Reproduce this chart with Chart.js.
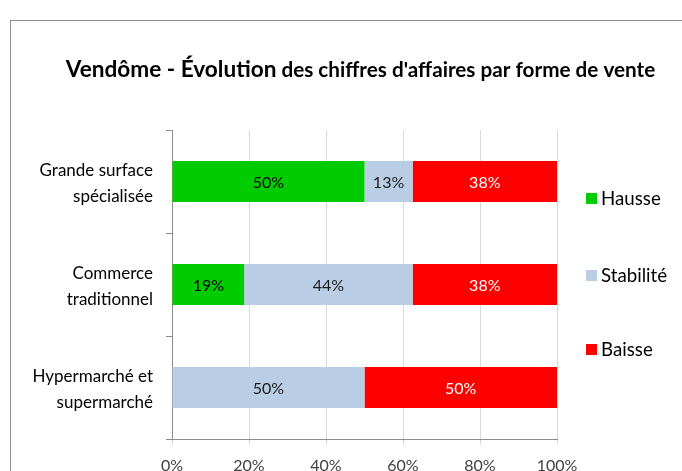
<!DOCTYPE html>
<html>
<head>
<meta charset="utf-8">
<script src="https://cdn.jsdelivr.net/npm/chart.js@4"></script>
<style>
  html, body { margin: 0; padding: 0; background: #ffffff; }
  #wrap { width: 682px; height: 471px; position: relative; }
</style>
</head>
<body>
<div id="wrap"><canvas id="c" width="682" height="471"></canvas></div>
<script>
const categories = [
  ["Grande surface", "spécialisée"],
  ["Commerce", "traditionnel"],
  ["Hypermarché et", "supermarché"]
];
const seriesNames = ["Hausse", "Stabilité", "Baisse"];
const hausse    = [50, 18.75, 0];
const stabilite = [12.5, 43.75, 50];
const baisse    = [37.5, 37.5, 50];
const xTicks = [0, 20, 40, 60, 80, 100];
const titleMain = "Vendôme - Évolution";
const titleRest = " des chiffres d'affaires par forme de vente";

const FONT = "Lato, 'Open Sans', sans-serif";
const colors = ["#00CC00", "#B9CDE5", "#FF0000"];
const labelColors = ["#000000", "#1a1a1a", "#ffffff"];

const framePlugin = {
  id: 'frame',
  beforeDraw(chart) {
    const ctx = chart.ctx;
    ctx.save();
    ctx.fillStyle = '#ffffff';
    ctx.fillRect(0, 0, chart.width, chart.height);
    ctx.strokeStyle = '#8c8c8c';
    ctx.lineWidth = 1;
    ctx.strokeRect(10.5, 20.5, 800, 600);
    ctx.restore();
  },
  afterDraw(chart) {
    const ctx = chart.ctx;
    ctx.save();
    // Title
    ctx.fillStyle = '#000000';
    ctx.textBaseline = 'alphabetic';
    const f1 = "bold 22.6px " + FONT;
    const f2 = "bold 20.7px " + FONT;
    ctx.font = f1; const w1 = ctx.measureText(titleMain).width;
    ctx.font = f2; const w2 = ctx.measureText(titleRest).width;
    let x = 360.5 - (w1 + w2) / 2;
    ctx.font = f1; ctx.textAlign = 'left'; ctx.fillText(titleMain, x, 77);
    ctx.font = f2; ctx.fillText(titleRest, x + w1, 77);
    // Legend
    const ly = [199, 276, 350];
    chart.data.datasets.forEach((ds, i) => {
      ctx.fillStyle = ds.backgroundColor;
      ctx.fillRect(586, ly[i] - 6, 11, 11);
      ctx.fillStyle = '#000000';
      ctx.font = "18.7px " + FONT;
      ctx.textBaseline = 'middle';
      ctx.fillText(ds.label, 601, ly[i]);
    });
    // Data labels
    ctx.font = "16px " + FONT;
    ctx.textAlign = 'center';
    ctx.textBaseline = 'middle';
    chart.data.datasets.forEach((ds, i) => {
      const meta = chart.getDatasetMeta(i);
      meta.data.forEach((bar, j) => {
        const v = ds.data[j];
        if (!v) return;
        const p = bar.getProps(['x', 'y', 'base'], true);
        ctx.fillStyle = labelColors[i];
        ctx.fillText(Math.round(v) + '%', (p.x + p.base) / 2, p.y + 1);
      });
    });
    ctx.restore();
  }
};

new Chart(document.getElementById('c'), {
  type: 'bar',
  data: {
    labels: categories,
    datasets: [
      { label: seriesNames[0], data: hausse, backgroundColor: colors[0] },
      { label: seriesNames[1], data: stabilite, backgroundColor: colors[1] },
      { label: seriesNames[2], data: baisse, backgroundColor: colors[2] }
    ]
  },
  options: {
    indexAxis: 'y',
    responsive: false,
    animation: false,
    devicePixelRatio: 1,
    layout: { padding: { top: 130, right: 125, left: 0, bottom: 0 } },
    datasets: { bar: { categoryPercentage: 0.4, barPercentage: 1, borderWidth: 0 } },
    plugins: { legend: { display: false }, title: { display: false }, tooltip: { enabled: false } },
    scales: {
      x: {
        stacked: true,
        min: 0, max: 100,
        afterBuildTicks(axis) { axis.ticks = xTicks.map(v => ({ value: v })); },
        afterFit(axis) { axis.height = 32; axis.paddingLeft = 0; axis.paddingRight = 0; },
        grid: { color: '#d9d9d9', lineWidth: 1, tickLength: 6, tickColor: '#d9d9d9' },
        border: { color: '#8c8c8c' },
        ticks: { color: '#404040', font: { family: FONT, size: 16 }, padding: 11, callback: v => v + '%' }
      },
      y: {
        stacked: true,
        afterFit(axis) { axis.width = 172; axis.paddingTop = 0; axis.paddingBottom = 0; },
        grid: { drawOnChartArea: false, tickLength: 6, color: '#8c8c8c', offset: true },
        border: { color: '#8c8c8c' },
        ticks: { color: '#000000', font: { family: FONT, size: 17, lineHeight: 1.5 }, padding: 13, labelOffset: 2 }
      }
    }
  },
  plugins: [framePlugin]
});
</script>
</body>
</html>
